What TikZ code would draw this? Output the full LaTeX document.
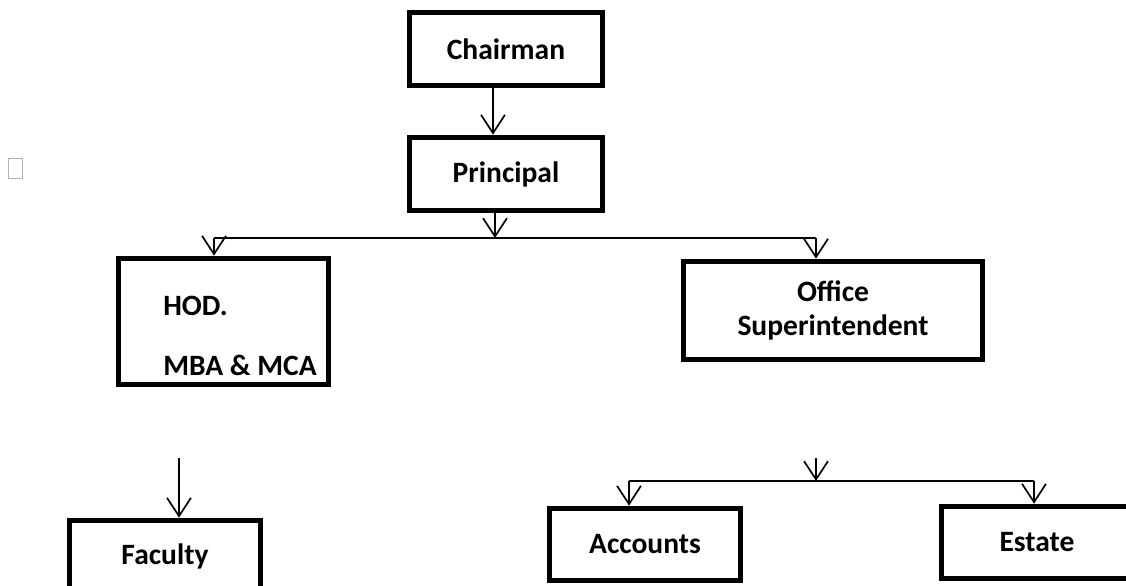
\documentclass[tikz,border=0pt]{standalone}
\usepackage{fontspec}
\setmainfont{Carlito}
\usetikzlibrary{arrows.meta,calc}
\tikzset{
  unit/.style={draw, line width=4pt, inner sep=0pt, align=center,
    font=\bfseries\fontsize{21}{24}\selectfont},
  txt/.style={inner sep=0pt, align=left, font=\bfseries\fontsize{21}{24}\selectfont},
  conn/.style={line width=1.2pt, -{Straight Barb[length=13pt,width=17pt]}},
  bus/.style={line width=1.2pt},
}
\begin{document}
\begin{tikzpicture}[x=0.025cm, y=-0.025cm]
    \useasboundingbox (0,0) rectangle (1126,586);
    % boxes
    \node[unit, minimum width=4.825cm, minimum height=1.825cm] (chair) at (506,49) {Chairman};
    \node[unit, minimum width=4.825cm, minimum height=1.825cm] (prin) at (506,174) {Principal};
    \node[unit, minimum width=5.25cm, minimum height=3.15cm] (hod) at (223.5,321.5) {};
    \node[txt, anchor=base west] (hodtxt) at (163,375) {HOD.\\[18pt]MBA \& MCA};
    \node[unit, minimum width=7.475cm, minimum height=2.45cm] (office) at (833,310.5) {Office\\Superintendent};
    \node[unit, minimum width=4.775cm, minimum height=1.8cm] (fac) at (165,556.5) {Faculty};
    \node[unit, minimum width=4.775cm, minimum height=1.8cm] (acc) at (645,544.5) {Accounts};
    \node[unit, minimum width=4.775cm, minimum height=1.8cm] (est) at (1037,542.5) {Estate};
    % bus coordinates
    \coordinate (busL) at (214,238);
    \coordinate (busM) at (495,238);
    \coordinate (busR) at (816,238);
    \coordinate (facTop) at (179,458);
    \coordinate (offTop) at (816,458);
    \coordinate (lowL) at (629,481);
    \coordinate (lowM) at (816,481);
    \coordinate (lowR) at (1034,481);
    % connectors
    \draw[conn] ($(chair.south)+(-13,0)$) -- ($(prin.north)+(-13,0)$);
    \draw[conn] (prin.south -| busM) -- (busM);
    \draw[bus] (busL) -- (busR);
    \draw[conn] (busL) -- (busL |- hod.north);
    \draw[conn] (busR) -- (busR |- office.north);
    \draw[conn] (facTop) -- (facTop |- fac.north);
    \draw[conn] (offTop) -- (lowM);
    \draw[bus] (lowL) -- (lowR);
    \draw[conn] (lowL) -- (lowL |- acc.north);
    \draw[conn] (lowR) -- (lowR |- est.north);
    % empty glyph box at the left
    \draw[gray!60, line width=0.6pt] (8.5,158.5) rectangle (22.5,178.5);
\end{tikzpicture}
\end{document}
